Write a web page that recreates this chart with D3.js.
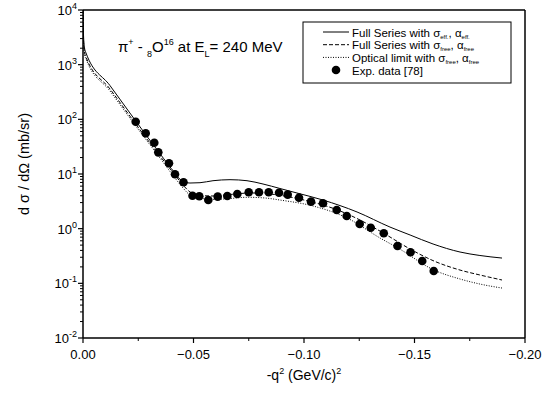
<!DOCTYPE html>
<html>
<head>
<meta charset="utf-8">
<script src="https://cdn.jsdelivr.net/npm/d3@7"></script>
<style>
  body { margin: 0; background: #fff; }
  svg { display: block; font-family: "Liberation Sans", Arial, sans-serif; }
</style>
</head>
<body>
<div id="chart"></div>
<script>
// -q^2 (GeV/c)^2 and d sigma / d Omega (mb/sr)
const fullEffQ = [0, -0.00023, -0.00068, -0.00136, -0.01222, -0.02353, -0.03484, -0.04163, -0.0448, -0.04842, -0.05294, -0.05882, -0.06652, -0.07421, -0.08145, -0.08914, -0.09683, -0.1086, -0.124, -0.1389, -0.148, -0.1584, -0.1706, -0.1796, -0.1896];
const fullEffV = [10000, 3490, 2018, 1634, 414, 97.2, 23.5, 10.4, 7.45, 6.84, 6.93, 7.54, 7.87, 7.54, 6.56, 5.43, 4.49, 3.34, 2.02, 1.07, 0.766, 0.524, 0.374, 0.323, 0.29];

const fullFreeQ = [0, -0.00023, -0.00068, -0.00136, -0.01222, -0.02353, -0.03484, -0.04163, -0.04525, -0.04842, -0.05294, -0.05882, -0.06652, -0.07557, -0.08462, -0.09367, -0.10271, -0.11403, -0.12534, -0.13665, -0.14796, -0.15882, -0.17059, -0.17964, -0.1896];
const fullFreeV = [10000, 2827, 1706, 1380, 359, 85.7, 21.3, 9.59, 6.29, 4.69, 4.04, 3.96, 4.22, 4.49, 4.31, 3.79, 3.14, 2.29, 1.44, 0.798, 0.425, 0.256, 0.175, 0.142, 0.115];

const opticalQ = [0, -0.00023, -0.00068, -0.00136, -0.01222, -0.02353, -0.03484, -0.04163, -0.04525, -0.04842, -0.05294, -0.05882, -0.06652, -0.07421, -0.08235, -0.08914, -0.10407, -0.11946, -0.13439, -0.14253, -0.15882, -0.17059, -0.17964, -0.1896];
const opticalV = [10000, 2600, 1567, 1270, 330, 78.8, 19.6, 8.45, 5.55, 4.13, 3.64, 3.41, 3.56, 3.75, 3.64, 3.34, 2.60, 1.57, 0.675, 0.443, 0.175, 0.120, 0.097, 0.082];

const expQ = [-0.02385, -0.02837, -0.03226, -0.03407, -0.03891, -0.04163, -0.04548, -0.04955, -0.05262, -0.0567, -0.06095, -0.0653, -0.06982, -0.07498, -0.07964, -0.08403, -0.08869, -0.09262, -0.09774, -0.10317, -0.1086, -0.1148, -0.11932, -0.1252, -0.1302, -0.1361, -0.1423, -0.1482, -0.1535, -0.1587];
const expV = [90.6, 55.6, 37.4, 24.9, 15.7, 9.9, 7.08, 4.01, 3.91, 3.35, 3.85, 3.96, 4.31, 4.63, 4.63, 4.63, 4.55, 4.19, 3.69, 3.12, 2.91, 2.20, 1.71, 1.22, 1.04, 0.822, 0.482, 0.370, 0.256, 0.168];

const xTicks = [0, -0.05, -0.10, -0.15, -0.20];
const yExponents = [-2, -1, 0, 1, 2, 3, 4];

const width = 549, height = 400;
const margin = { left: 83, right: 24, top: 10, bottom: 62 };

const svg = d3.select("#chart").append("svg")
  .attr("width", width).attr("height", height);

const x = d3.scaleLinear().domain([0, -0.2]).range([margin.left, width - margin.right]);
const y = d3.scaleLog().domain([1e-2, 1e4]).range([height - margin.bottom, margin.top]);

const plot = svg.append("g");

// clip
svg.append("clipPath").attr("id", "clip").append("rect")
  .attr("x", x(0)).attr("y", y(1e4))
  .attr("width", x(-0.2) - x(0)).attr("height", y(1e-2) - y(1e4));

const line = d3.line()
  .x(d => x(d[0])).y(d => y(d[1]))
  .curve(d3.curveMonotoneX);

const series = [
  { q: fullEffQ, v: fullEffV, dash: null },
  { q: fullFreeQ, v: fullFreeV, dash: "4,2" },
  { q: opticalQ, v: opticalV, dash: "1,1.5" }
];

series.forEach(s => {
  plot.append("path")
    .datum(d3.zip(s.q, s.v))
    .attr("clip-path", "url(#clip)")
    .attr("fill", "none")
    .attr("stroke", "#000")
    .attr("stroke-width", 1)
    .attr("stroke-dasharray", s.dash)
    .attr("d", line);
});

plot.append("g").selectAll("circle")
  .data(d3.zip(expQ, expV))
  .join("circle")
  .attr("cx", d => x(d[0]))
  .attr("cy", d => y(d[1]))
  .attr("r", 4.3)
  .attr("fill", "#000");

// axes
const xMinor = d3.range(0, 8).map(i => -0.025 - i * 0.05).filter(v => v > -0.2);
const xAxis = svg.append("g").attr("transform", `translate(0,${y(1e-2)})`);
xAxis.append("line").attr("x1", x(0)).attr("x2", x(-0.2)).attr("stroke", "#000").attr("stroke-width", 1.5);
xAxis.selectAll(".maj").data(xTicks).join("line")
  .attr("x1", d => x(d)).attr("x2", d => x(d)).attr("y1", 0).attr("y2", 5)
  .attr("stroke", "#000").attr("stroke-width", 1.2);
xAxis.selectAll(".min").data(xMinor).join("line")
  .attr("x1", d => x(d)).attr("x2", d => x(d)).attr("y1", 0).attr("y2", 3)
  .attr("stroke", "#000").attr("stroke-width", 1);
xAxis.selectAll("text").data(xTicks).join("text")
  .attr("x", d => x(d)).attr("y", 21)
  .attr("text-anchor", "middle").attr("font-size", 13)
  .text(d => d3.format(".2f")(d));

const yAxis = svg.append("g").attr("transform", `translate(${x(0)},0)`);
yAxis.append("line").attr("y1", y(1e-2)).attr("y2", y(1e4)).attr("stroke", "#000").attr("stroke-width", 1.5);
const yMinor = [];
yExponents.slice(0, -1).forEach(e => {
  for (let k = 2; k <= 9; k++) yMinor.push(k * Math.pow(10, e));
});
yAxis.selectAll(".maj").data(yExponents).join("line")
  .attr("x1", -5).attr("x2", 0)
  .attr("y1", d => y(Math.pow(10, d))).attr("y2", d => y(Math.pow(10, d)))
  .attr("stroke", "#000").attr("stroke-width", 1.2);
yAxis.selectAll(".min").data(yMinor).join("line")
  .attr("x1", -3).attr("x2", 0)
  .attr("y1", d => y(d)).attr("y2", d => y(d))
  .attr("stroke", "#000").attr("stroke-width", 1);
const yl = yAxis.selectAll("text").data(yExponents).join("text")
  .attr("x", -6).attr("y", d => y(Math.pow(10, d)) + 5)
  .attr("text-anchor", "end").attr("font-size", 13);
yl.append("tspan").text("10");
yl.append("tspan").attr("dy", -6).attr("font-size", 9).text(d => d);

// frame top/right
svg.append("line").attr("x1", x(0)).attr("x2", x(-0.2)).attr("y1", y(1e4)).attr("y2", y(1e4))
  .attr("stroke", "#000").attr("stroke-width", 1.5);
svg.append("line").attr("x1", x(-0.2)).attr("x2", x(-0.2)).attr("y1", y(1e4)).attr("y2", y(1e-2))
  .attr("stroke", "#000").attr("stroke-width", 1.5);

// axis titles
const xt = svg.append("text").attr("x", 304).attr("y", 380)
  .attr("text-anchor", "middle").attr("font-size", 14);
xt.append("tspan").text("-q");
xt.append("tspan").attr("dy", -6).attr("font-size", 9).text("2");
xt.append("tspan").attr("dy", 6).text(" (GeV/c)");
xt.append("tspan").attr("dy", -6).attr("font-size", 9).text("2");

svg.append("text")
  .attr("transform", "translate(29,164) rotate(-90)")
  .attr("text-anchor", "middle").attr("font-size", 14.5)
  .text("d σ / dΩ (mb/sr)");

// reaction label
const tl = svg.append("text").attr("x", 118).attr("y", 52).attr("font-size", 15);
tl.append("tspan").text("π");
tl.append("tspan").attr("dy", -7).attr("font-size", 9).text("+");
tl.append("tspan").attr("dy", 7).text(" - ");
tl.append("tspan").attr("dy", 5).attr("font-size", 9).text("8");
tl.append("tspan").attr("dy", -5).text("O");
tl.append("tspan").attr("dy", -7).attr("font-size", 9).text("16");
tl.append("tspan").attr("dy", 7).text(" at E");
tl.append("tspan").attr("dy", 5).attr("font-size", 9).text("L");
tl.append("tspan").attr("dy", -5).text("= 240 MeV");

// legend
const legend = svg.append("g");
legend.append("rect").attr("x", 303).attr("y", 22).attr("width", 208).attr("height", 61)
  .attr("fill", "#fff").attr("stroke", "#000").attr("stroke-width", 1);
const legendRows = [
  { dash: null, main: "Full Series with ", sub: ["eff.", "eff."] },
  { dash: "4,2", main: "Full Series with ", sub: ["free", "free"] },
  { dash: "1,1.5", main: "Optical limit with ", sub: ["free", "free"] }
];
legendRows.forEach((r, i) => {
  const cy = 32 + i * 12.7;
  legend.append("line").attr("x1", 323).attr("x2", 349).attr("y1", cy).attr("y2", cy)
    .attr("stroke", "#000").attr("stroke-width", 1).attr("stroke-dasharray", r.dash);
  const t = legend.append("text").attr("x", 352).attr("y", cy + 4.5).attr("font-size", 11.5);
  t.append("tspan").text(r.main + "σ");
  t.append("tspan").attr("dy", 2).attr("font-size", 6).text(r.sub[0]);
  t.append("tspan").attr("dy", -2).text(", α");
  t.append("tspan").attr("dy", 2).attr("font-size", 6).text(r.sub[1]);
});
legend.append("circle").attr("cx", 336).attr("cy", 70).attr("r", 4.3).attr("fill", "#000");
legend.append("text").attr("x", 352).attr("y", 74.5).attr("font-size", 11.5).text("Exp. data [78]");
</script>
</body>
</html>
